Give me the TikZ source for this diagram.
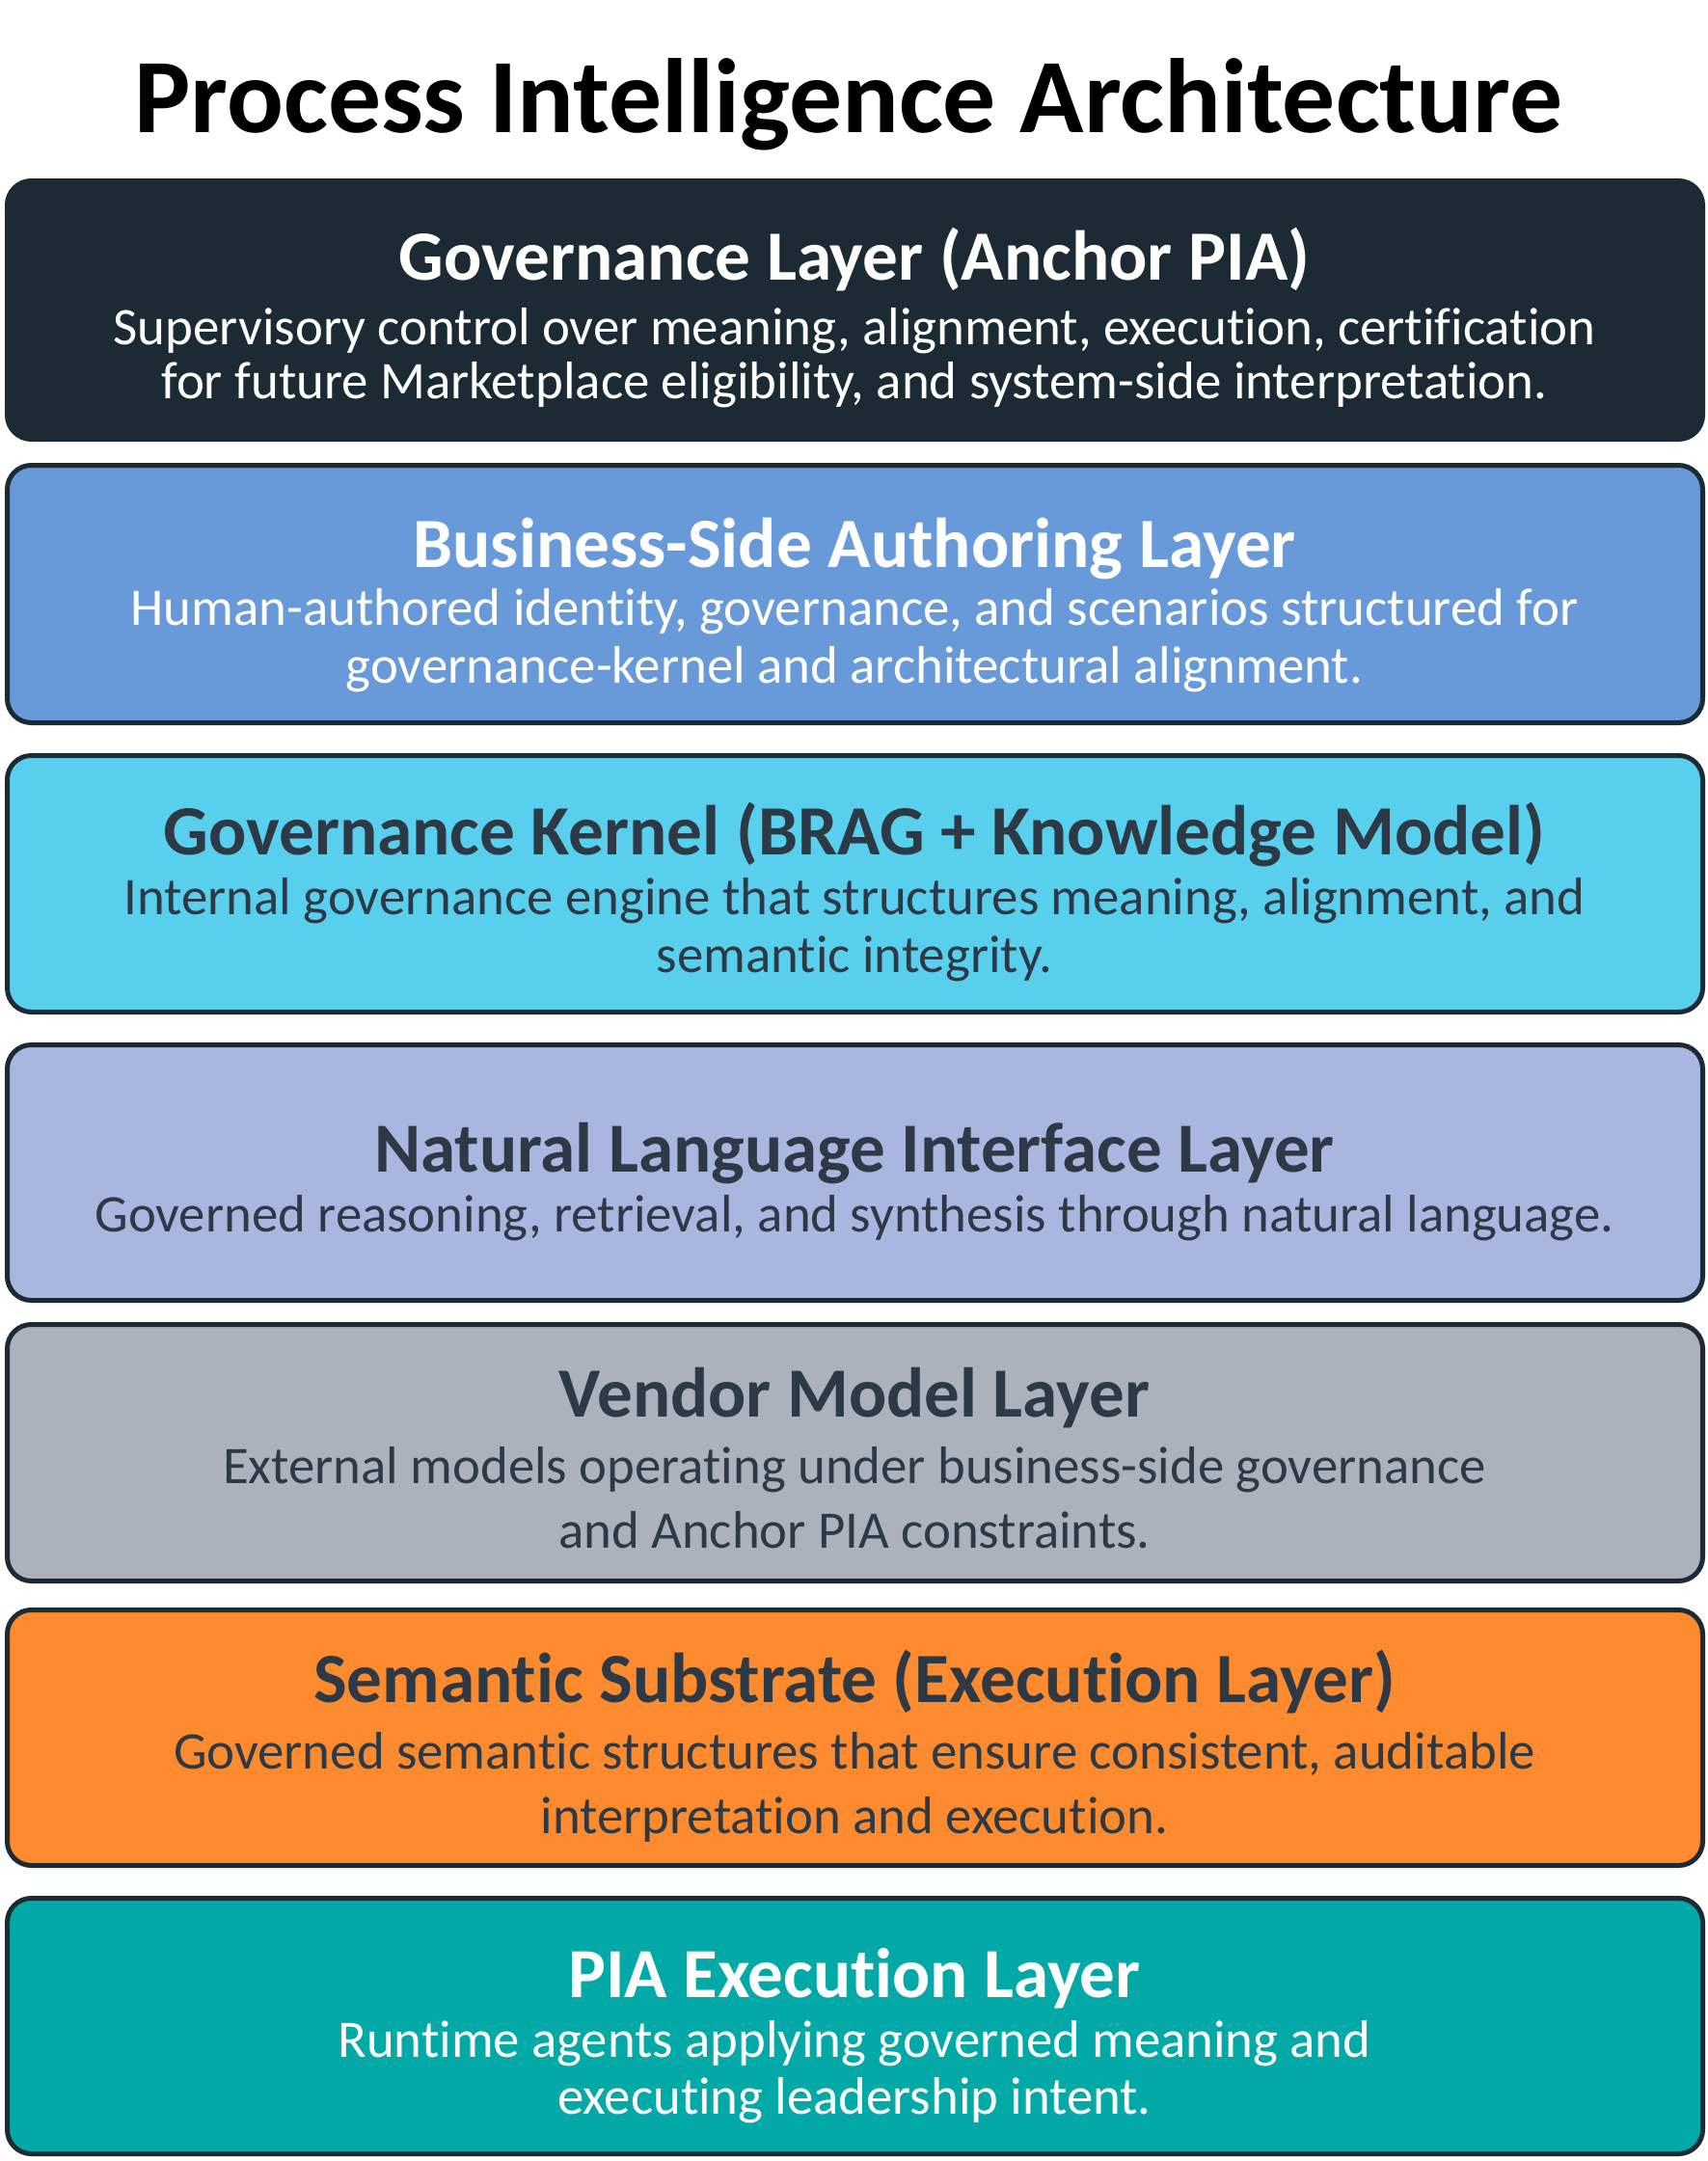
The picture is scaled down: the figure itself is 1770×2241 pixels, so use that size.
\documentclass[tikz,border=0pt]{standalone}
\usepackage{fontspec}
\setmainfont{Carlito}[Ligatures={NoCommon}]
\usepackage{graphicx}
\definecolor{govdark}{HTML}{1C2A33}
\definecolor{bizblue}{HTML}{689AD9}
\definecolor{kernelc}{HTML}{58CFED}
\definecolor{nlc}{HTML}{A9B6E0}
\definecolor{vendorc}{HTML}{ACB2BB}
\definecolor{semc}{HTML}{FC8A2E}
\definecolor{piac}{HTML}{03A9A6}
\definecolor{txtdark}{HTML}{2D3A46}
\newlength\reftw
\newcommand\fitline[2]{\settowidth\reftw{#2}\pgfmathsetmacro\tmpscale{#1/\reftw}\global\let\fitscale\tmpscale\scalebox{\fitscale}{#2}}
\newcommand\sameline[1]{\scalebox{\fitscale}{#1}}
\tikzset{
  layer/.style={draw=govdark, line width=5pt, rounded corners=25pt, minimum width=1758pt, inner sep=0pt, outer sep=0pt},
  head/.style={anchor=base, inner sep=0pt, font=\fontsize{10}{12}\selectfont\bfseries},
  bodyline/.style={anchor=base, inner sep=0pt, font=\fontsize{10}{12}\selectfont},
}
\begin{document}
\begin{tikzpicture}[x=1pt, y=-1pt]
\useasboundingbox (0,0) rectangle (1770,2241);
\fill[white] (0,0) rectangle (1770,2241);

\node[head, text=black] (title) at (880,137) {\resizebox{1481pt}{!}{Process Intelligence Architecture}};

% Layer boxes
\node[layer, fill=govdark, minimum height=268pt] (box1) at (886.5,321.5) {};
\node[layer, fill=bizblue, minimum height=267pt] (box2) at (886.5,616) {};
\node[layer, fill=kernelc, minimum height=266pt] (box3) at (886.5,916.5) {};
\node[layer, fill=nlc, minimum height=265pt] (box4) at (886.5,1216) {};
\node[layer, fill=vendorc, minimum height=266pt] (box5) at (886.5,1506.5) {};
\node[layer, fill=semc, minimum height=265pt] (box6) at (886.5,1802) {};
\node[layer, fill=piac, minimum height=265pt] (box7) at (886.5,2101) {};

% Box 1
\node[head, text=white] (h1) at (886,290) {\resizebox{944pt}{!}{Governance Layer (Anchor PIA)}};
\node[bodyline, text=white] (b1a) at (886,357) {\fitline{1537}{Supervisory control over meaning, alignment, execution, certification}};
\node[bodyline, text=white] (b1b) at (886,413) {\sameline{for future Marketplace eligibility, and system-side interpretation.}};

% Box 2
\node[head, text=white] (h2) at (886,588) {\resizebox{915pt}{!}{Business-Side Authoring Layer}};
\node[bodyline, text=white] (b2a) at (886,648) {\fitline{1501}{Human-authored identity, governance, and scenarios structured for}};
\node[bodyline, text=white] (b2b) at (886,708) {\sameline{governance-kernel and architectural alignment.}};

% Box 3
\node[head, text=txtdark] (h3) at (886,886) {\resizebox{1433pt}{!}{Governance Kernel (BRAG + Knowledge Model)}};
\node[bodyline, text=txtdark] (b3a) at (886,948) {\fitline{1515}{Internal governance engine that structures meaning, alignment, and}};
\node[bodyline, text=txtdark] (b3b) at (886,1008) {\sameline{semantic integrity.}};

% Box 4
\node[head, text=txtdark] (h4) at (886,1215) {\resizebox{995pt}{!}{Natural Language Interface Layer}};
\node[bodyline, text=txtdark] (b4a) at (886,1277) {\fitline{1575}{Governed reasoning, retrieval, and synthesis through natural language.}};

% Box 5
\node[head, text=txtdark] (h5) at (886,1469) {\resizebox{612pt}{!}{Vendor Model Layer}};
\node[bodyline, text=txtdark] (b5a) at (886,1538) {\fitline{1310}{External models operating under business-side governance}};
\node[bodyline, text=txtdark] (b5b) at (886,1605) {\sameline{and Anchor PIA constraints.}};

% Box 6
\node[head, text=txtdark] (h6) at (886,1765) {\resizebox{1121pt}{!}{Semantic Substrate (Execution Layer)}};
\node[bodyline, text=txtdark] (b6a) at (886,1834) {\fitline{1412}{Governed semantic structures that ensure consistent, auditable}};
\node[bodyline, text=txtdark] (b6b) at (886,1901) {\sameline{interpretation and execution.}};

% Box 7
\node[head, text=white] (h7) at (886,2071) {\resizebox{593pt}{!}{PIA Execution Layer}};
\node[bodyline, text=white] (b7a) at (886,2133) {\fitline{1071}{Runtime agents applying governed meaning and}};
\node[bodyline, text=white] (b7b) at (886,2192) {\sameline{executing leadership intent.}};
\end{tikzpicture}
\end{document}
